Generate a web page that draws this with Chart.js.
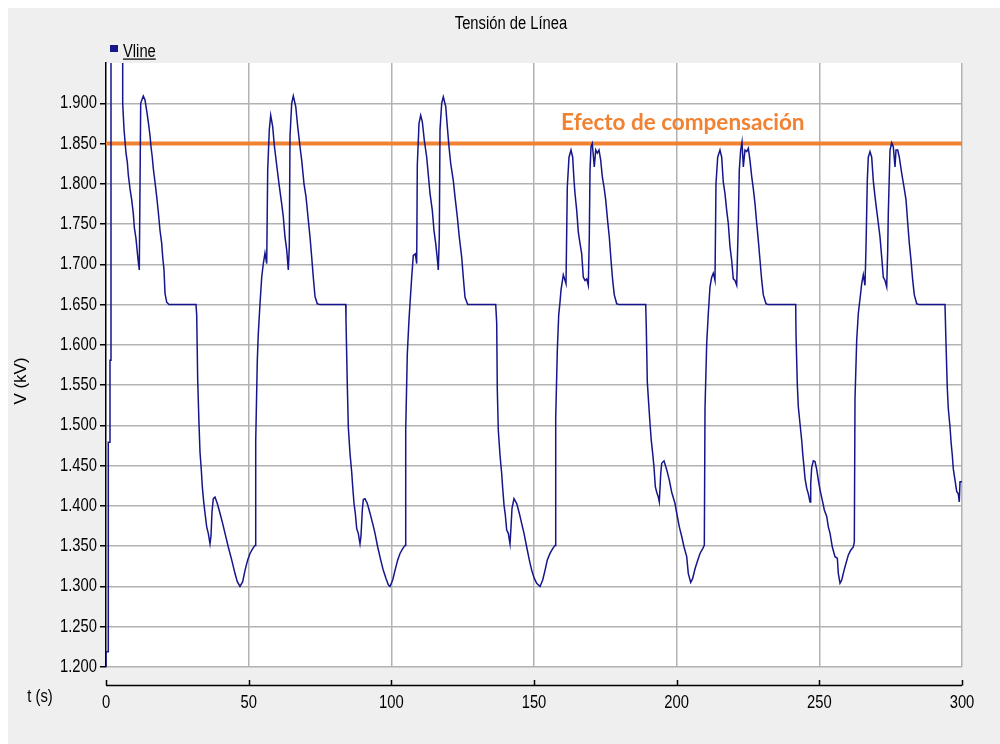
<!DOCTYPE html>
<html lang="es">
<head>
<meta charset="utf-8">
<title>Tensión de Línea</title>
<script src="https://cdn.jsdelivr.net/npm/chart.js@4.4.1/dist/chart.umd.min.js"></script>
<style>
html, body { margin: 0; padding: 0; background: #ffffff; }
#lienzo { position: relative; width: 1000px; height: 744px; }
canvas { display: block; }
</style>
</head>
<body>
<div id="lienzo"><canvas id="grafico" width="1000" height="744"></canvas></div>
<script>
// Tensión de línea Vline [kV] frente al tiempo t [s], tramo a tramo.
const arranque = [
  [0,1.200],[0,1.219],[0.8,1.219],[0.8,1.479],[1.4,1.479],[1.4,1.581],[1.75,1.581],[1.75,2.05],
  [5.85,2.05],[5.85,1.900],[6.31,1.868],[7.01,1.838],[7.47,1.827],[7.82,1.811],[8.41,1.794],
  [9.01,1.780],[9.57,1.763],[9.92,1.746],[10.51,1.732],[10.97,1.715],[11.32,1.703],[11.67,1.693],
  [12.16,1.900],[13.07,1.909],[13.67,1.904],[14.26,1.891],[14.82,1.877],[15.42,1.860],[15.77,1.846],
  [16.22,1.833],[16.58,1.819],[17.17,1.802],[17.77,1.784],[18.33,1.765],[18.93,1.742],[19.52,1.726],
  [19.87,1.709],[20.33,1.693],[20.68,1.664],[21.27,1.653],[22.08,1.650]
];
const ciclo1 = [
  [31.54,1.650],[31.79,1.637],[32.14,1.556],[32.59,1.502],[32.94,1.467],[33.40,1.445],[33.75,1.424],
  [34.24,1.405],[34.70,1.391],[35.29,1.374],[35.85,1.366],[36.45,1.353],[36.80,1.363],[37.15,1.393],
  [37.61,1.409],[38.20,1.411],[39.01,1.403],[39.95,1.391],[40.90,1.378],[41.71,1.366],[42.86,1.349],
  [44.05,1.333],[45.21,1.316],[46.02,1.306],[46.96,1.300],[47.91,1.306],[48.72,1.320],[49.66,1.333],
  [50.47,1.341],[51.41,1.347],[52.22,1.351],[52.47,1.480],[53.03,1.581],[53.38,1.614],[53.97,1.651],
  [54.57,1.684],[55.13,1.701],[55.72,1.714],[56.32,1.701],[56.67,1.817],[57.23,1.867],[57.72,1.885],
  [58.42,1.871],[58.98,1.848],[59.83,1.823],[60.63,1.800],[61.58,1.775],[62.14,1.759],[62.73,1.734],
  [63.33,1.718],[63.89,1.693],[64.24,1.722],[64.49,1.859],[65.08,1.900],[65.64,1.909],[66.49,1.896],
  [67.19,1.871],[67.99,1.846],[68.59,1.829],[69.39,1.800],[70.09,1.784],[70.90,1.755],[71.50,1.734],
  [72.09,1.709],[72.65,1.684],[73.25,1.660],[74.05,1.651],[75.00,1.650],[84.01,1.650]
];
const ciclo2 = [
  [84.11,1.631],[84.57,1.550],[84.92,1.498],[85.52,1.465],[86.11,1.442],[86.46,1.424],[86.92,1.403],
  [87.37,1.391],[87.86,1.372],[88.42,1.366],[89.02,1.353],[89.37,1.363],[89.83,1.395],[90.18,1.408],
  [90.77,1.409],[91.58,1.403],[92.53,1.391],[93.47,1.378],[94.28,1.366],[95.22,1.349],[96.27,1.333],
  [97.19,1.320],[98.13,1.310],[98.94,1.302],[99.53,1.300],[100.48,1.308],[101.29,1.320],[102.23,1.333],
  [103.04,1.341],[103.99,1.347],[104.79,1.351],[105.04,1.494],[105.60,1.589],[106.19,1.631],[106.54,1.651],
  [107.14,1.684],[107.70,1.711],[108.40,1.713],[108.89,1.701],[109.10,1.823],[109.70,1.875],[110.29,1.885],
  [110.86,1.877],[111.56,1.854],[112.40,1.833],[112.96,1.811],[113.55,1.788],[114.36,1.767],[114.95,1.742],
  [115.55,1.726],[116.11,1.707],[116.46,1.693],[116.81,1.734],[117.06,1.867],[117.65,1.900],[118.21,1.908],
  [119.06,1.896],[119.62,1.871],[120.21,1.846],[120.81,1.825],[121.72,1.804],[122.31,1.784],[123.12,1.759],
  [123.82,1.734],[124.66,1.709],[125.22,1.684],[125.82,1.659],[126.77,1.650],[136.58,1.650]
];
const ciclo3 = [
  [136.93,1.627],[137.14,1.544],[137.49,1.494],[138.09,1.463],[138.68,1.440],[139.03,1.422],[139.49,1.401],
  [139.94,1.389],[140.43,1.370],[141.00,1.366],[141.59,1.353],[141.94,1.374],[142.29,1.397],[142.99,1.409],
  [143.94,1.403],[144.85,1.391],[145.69,1.378],[146.50,1.366],[147.44,1.349],[148.35,1.333],[149.20,1.320],
  [150.11,1.310],[150.95,1.304],[152.11,1.300],[153.05,1.308],[153.86,1.320],[154.67,1.333],[155.61,1.341],
  [156.56,1.347],[157.36,1.351],[157.61,1.509],[158.17,1.593],[158.66,1.637],[159.11,1.653],[159.46,1.668],
  [160.27,1.687],[161.22,1.676],[161.67,1.796],[162.27,1.833],[162.97,1.842],[163.56,1.833],[164.02,1.804],
  [164.37,1.788],[164.97,1.767],[165.53,1.740],[166.12,1.726],[166.72,1.713],[167.28,1.684],[167.87,1.680],
  [168.47,1.682],[169.03,1.674],[169.38,1.734],[169.63,1.817],[169.98,1.846],[170.43,1.850],[171.13,1.821],
  [171.63,1.842],[172.19,1.838],[172.78,1.842],[173.38,1.829],[173.94,1.809],[174.54,1.796],[175.13,1.780],
  [175.83,1.753],[176.39,1.734],[176.99,1.705],[177.58,1.680],[178.14,1.662],[178.99,1.651],[179.90,1.650],
  [189.15,1.650]
];
const ciclo4 = [
  [189.36,1.621],[189.71,1.554],[190.20,1.527],[190.66,1.502],[191.11,1.481],[191.60,1.465],[192.06,1.448],
  [192.52,1.424],[193.01,1.417],[193.57,1.411],[193.92,1.405],[194.41,1.440],[194.76,1.453],[195.56,1.456],
  [196.51,1.445],[197.42,1.432],[198.26,1.417],[199.42,1.403],[200.01,1.391],[200.93,1.374],[201.77,1.362],
  [202.58,1.349],[203.52,1.337],[204.08,1.316],[204.92,1.305],[205.62,1.310],[206.43,1.322],[207.24,1.331],
  [208.18,1.341],[209.13,1.347],[209.69,1.351],[209.93,1.521],[210.53,1.602],[211.09,1.639],[211.68,1.672],
  [212.28,1.684],[212.84,1.689],[213.43,1.680],[213.78,1.800],[214.38,1.833],[215.18,1.842],[215.78,1.833],
  [216.34,1.802],[216.93,1.788],[217.53,1.767],[218.09,1.751],[218.69,1.722],[219.28,1.705],[219.84,1.682],
  [220.44,1.680],[221.04,1.674],[221.60,1.751],[221.95,1.817],[222.44,1.842],[222.90,1.852],[223.36,1.821],
  [223.95,1.842],[224.55,1.840],[225.11,1.844],[225.70,1.829],[226.30,1.809],[226.86,1.794],[227.46,1.775],
  [228.05,1.751],[228.61,1.730],[229.21,1.705],[229.81,1.680],[230.37,1.662],[231.31,1.651],[232.12,1.650],
  [241.72,1.650]
];
const ciclo5 = [
  [241.83,1.612],[242.29,1.550],[242.64,1.523],[243.23,1.502],[243.83,1.481],[244.18,1.465],[244.64,1.448],
  [244.99,1.434],[245.58,1.422],[246.14,1.415],[246.74,1.405],[246.98,1.428],[247.33,1.448],[247.90,1.456],
  [248.49,1.455],[249.09,1.445],[249.65,1.432],[250.24,1.420],[251.05,1.407],[251.75,1.395],[252.59,1.387],
  [253.15,1.374],[253.75,1.366],[254.55,1.349],[255.50,1.337],[256.31,1.335],[256.66,1.316],[257.25,1.304],
  [257.85,1.308],[258.66,1.320],[259.36,1.329],[260.16,1.339],[261.00,1.345],[261.91,1.349],[262.26,1.355],
  [262.50,1.533],[263.10,1.606],[263.66,1.639],[264.25,1.657],[264.85,1.676],[265.41,1.687],[266.00,1.674],
  [266.35,1.720],[266.81,1.804],[267.16,1.833],[267.76,1.840],[268.35,1.833],[268.91,1.804],[269.51,1.784],
  [270.10,1.767],[270.67,1.751],[271.26,1.734],[271.86,1.709],[272.42,1.684],[273.01,1.680],[273.61,1.672],
  [273.96,1.717],[274.17,1.763],[274.77,1.842],[275.36,1.851],[275.92,1.846],[276.52,1.821],[276.87,1.842],
  [277.47,1.842],[278.03,1.833],[278.87,1.813],[279.68,1.796],[280.38,1.780],[280.98,1.751],[281.54,1.726],
  [282.13,1.705],[282.73,1.680],[283.29,1.662],[284.13,1.651],[285.04,1.650],[294.04,1.650]
];
const cierre = [
  [294.39,1.602],[294.85,1.546],[295.20,1.521],[295.80,1.498],[296.15,1.480],[296.60,1.463],[296.95,1.446],
  [297.55,1.432],[298.14,1.418],[298.70,1.415],[299.05,1.405],[299.30,1.430],[300,1.430]
];

// Nivel de referencia y su rótulo
const nivelCompensacion = 1.85;
const rotuloCompensacion = { texto: 'Efecto de compensación', t: 159.5, v: 1.8665 };

// Ejes
const ejeT = { min: 0, max: 300, paso: 50 };
const ejeV = { min: 1.2, max: 1.95, paso: 0.05 };

const serieVline = [...arranque, ...ciclo1, ...ciclo2, ...ciclo3, ...ciclo4, ...ciclo5, ...cierre]
  .map(([t, v]) => ({ x: t, y: v }));

const ESTRECHA = '"Arial Narrow", "Liberation Sans", Arial, sans-serif';
const NORMAL = '"Liberation Sans", Arial, sans-serif';
const AZUL = '#16168c';
const NARANJA = '#f08232';
const REJILLA = '#b2b2b2';
const transparente = 'rgba(0,0,0,0)';

// Los rótulos en letra estrecha se comprimen en horizontal si no hay una cara condensada.
const CONDENSADO = 0.82;
const fillTextBase = CanvasRenderingContext2D.prototype.fillText;
CanvasRenderingContext2D.prototype.fillText = function (texto, x, y, maxW) {
  if (!/Arial Narrow/.test(this.font)) {
    return maxW === undefined ? fillTextBase.call(this, texto, x, y) : fillTextBase.call(this, texto, x, y, maxW);
  }
  this.save();
  this.translate(x, y);
  this.scale(CONDENSADO, 1);
  fillTextBase.call(this, texto, 0, 0);
  this.restore();
};

// Fondo gris de la ventana y área de trazado blanca
const fondo = {
  id: 'fondo',
  beforeDraw(chart) {
    const { ctx, chartArea: a } = chart;
    ctx.save();
    ctx.fillStyle = '#ffffff';
    ctx.fillRect(0, 0, chart.width, chart.height);
    ctx.fillStyle = '#efefef';
    ctx.fillRect(8, 8, chart.width - 8, chart.height - 8);
    ctx.fillStyle = '#ffffff';
    ctx.fillRect(a.left, a.top, a.right - a.left, a.bottom - a.top);
    ctx.restore();
  }
};

// Rótulo sobre la línea de compensación
const rotulos = {
  id: 'rotulos',
  afterDatasetsDraw(chart) {
    const { ctx, scales: { x, y } } = chart;
    ctx.save();
    ctx.font = 'bold 22.5px Lato, "Open Sans", sans-serif';
    ctx.fillStyle = NARANJA;
    ctx.textAlign = 'left';
    ctx.textBaseline = 'alphabetic';
    ctx.fillText(rotuloCompensacion.texto, x.getPixelForValue(rotuloCompensacion.t), y.getPixelForValue(rotuloCompensacion.v));
    ctx.restore();
  }
};

// Título, leyenda, nombres de ejes y eje de tiempo desplazado
const marco = {
  id: 'marco',
  afterDraw(chart) {
    const { ctx, scales: { x } } = chart;
    ctx.save();
    ctx.fillStyle = '#000';
    ctx.font = '18px ' + ESTRECHA;
    ctx.textAlign = 'center';
    ctx.textBaseline = 'alphabetic';
    ctx.fillText('Tensión de Línea', 511, 28.5);

    // leyenda
    const serie = chart.data.datasets[0];
    ctx.fillStyle = serie.borderColor;
    ctx.fillRect(110, 45, 8, 7);
    ctx.fillStyle = '#000';
    ctx.textAlign = 'left';
    ctx.fillText(serie.label, 123, 56.5);
    const ancho = ctx.measureText(serie.label).width * CONDENSADO;
    ctx.fillRect(123, 58.5, ancho, 1.2);

    // nombre del eje de tiempo
    ctx.textAlign = 'center';
    ctx.textBaseline = 'middle';
    ctx.fillText('t (s)', 40, 697);

    // nombre del eje de tensión
    ctx.save();
    ctx.translate(21, 381);
    ctx.rotate(-Math.PI / 2);
    ctx.font = '17px ' + NORMAL;
    ctx.fillText('V (kV)', 0, 0);
    ctx.restore();

    // eje de tiempo
    ctx.strokeStyle = '#000';
    ctx.lineWidth = 1.5;
    ctx.beginPath();
    ctx.moveTo(x.left, 685.5);
    ctx.lineTo(x.right, 685.5);
    x.ticks.forEach(tk => {
      const px = Math.round(x.getPixelForValue(tk.value)) + 0.5;
      ctx.moveTo(px, 685.5);
      ctx.lineTo(px, 680);
    });
    ctx.stroke();
    ctx.restore();
  }
};

const esTope = v => Math.abs(v - ejeV.max) < 1e-6;

new Chart(document.getElementById('grafico'), {
  type: 'line',
  data: {
    datasets: [
      {
        label: 'Vline',
        data: serieVline,
        borderColor: AZUL,
        backgroundColor: AZUL,
        borderWidth: 1.5,
        pointRadius: 0,
        tension: 0,
        fill: false
      },
      {
        label: 'Compensación',
        data: [{ x: ejeT.min, y: nivelCompensacion }, { x: ejeT.max, y: nivelCompensacion }],
        borderColor: NARANJA,
        borderWidth: 4,
        pointRadius: 0,
        fill: false
      }
    ]
  },
  options: {
    responsive: false,
    animation: false,
    events: [],
    layout: { padding: { left: 6, right: 38, top: 63, bottom: 0 } },
    plugins: {
      legend: { display: false },
      title: { display: false },
      tooltip: { enabled: false }
    },
    scales: {
      x: {
        type: 'linear',
        min: ejeT.min,
        max: ejeT.max,
        ticks: {
          stepSize: ejeT.paso,
          color: '#000',
          padding: 25,
          maxRotation: 0,
          font: { family: ESTRECHA, size: 18 }
        },
        grid: {
          color: c => (c.tick && c.tick.value === ejeT.min) ? transparente : REJILLA,
          lineWidth: 1.5,
          drawTicks: false
        },
        border: { display: false },
        afterFit(s) { s.height = 77; s.paddingLeft = 0; s.paddingRight = 0; }
      },
      y: {
        min: ejeV.min,
        max: ejeV.max,
        ticks: {
          stepSize: ejeV.paso,
          color: '#000',
          padding: 3,
          font: { family: ESTRECHA, size: 18 },
          callback: v => esTope(v) ? '' : v.toFixed(3)
        },
        grid: {
          color: c => (c.tick && esTope(c.tick.value)) ? transparente : REJILLA,
          tickColor: c => (c.tick && esTope(c.tick.value)) ? transparente : '#000',
          lineWidth: 1.5,
          tickLength: 6
        },
        border: { display: true, color: '#000', width: 1.5 },
        afterFit(s) { s.width = 100; s.paddingTop = 0; s.paddingBottom = 0; }
      }
    }
  },
  plugins: [fondo, rotulos, marco]
});
</script>
</body>
</html>
